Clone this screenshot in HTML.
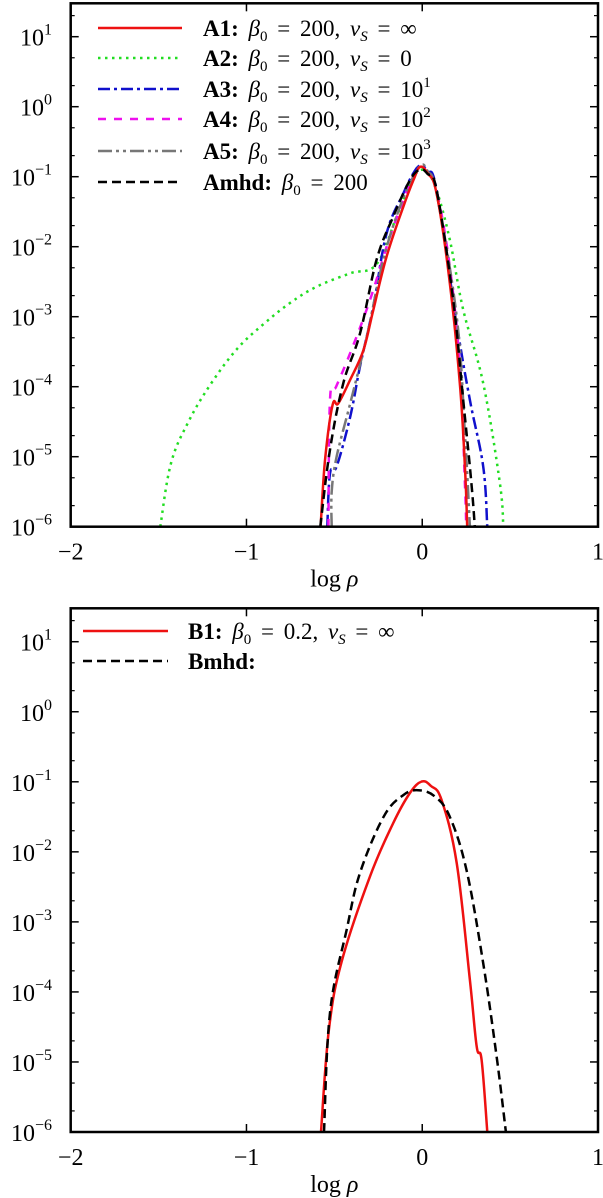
<!DOCTYPE html>
<html><head><meta charset="utf-8"><style>
html,body{margin:0;padding:0;background:#fff;width:603px;height:1198px;overflow:hidden}
svg{display:block;font-family:"Liberation Serif",serif}
</style></head><body>
<svg id="fig" width="603" height="1198" viewBox="0 0 603 1198" xmlns="http://www.w3.org/2000/svg"></svg>
<script>
// ---- data (x = log rho, y = log10 PDF) ----
const xTicks = [-2, -1, 0, 1];
const xTickLabels = ["\u22122", "\u22121", "0", "1"];
const yTicks = [1, 0, -1, -2, -3, -4, -5, -6];
const a1X = [-0.578,-0.553,-0.51,-0.478,-0.41,-0.335,-0.279,-0.203,-0.108,-0.05,-0.013,0.03,0.082,0.157,0.214,0.243,0.256];
const a1Y = [-6,-5.05,-4.26,-4.24,-3.90,-3.48,-2.91,-2.14,-1.43,-1.05,-0.86,-0.95,-1.24,-2.52,-3.95,-5.14,-6];
const a2X = [-1.49,-1.43,-1.33,-1.2,-1.05,-0.9,-0.75,-0.6,-0.41,-0.26,-0.146,-0.06,-0.003,0.04,0.082,0.157,0.233,0.347,0.442,0.461];
const a2Y = [-6,-5.1,-4.5,-3.95,-3.45,-3.1,-2.8,-2.57,-2.38,-2.25,-1.57,-1.05,-0.9,-0.98,-1.19,-1.9,-2.9,-3.95,-5.38,-6];
const a3X = [-0.54,-0.525,-0.487,-0.41,-0.354,-0.279,-0.203,-0.108,-0.05,-0.01,0.03,0.082,0.196,0.271,0.347,0.37];
const a3Y = [-6,-5.24,-5.14,-4.43,-3.71,-2.86,-1.81,-1.24,-0.95,-0.84,-0.92,-1.19,-3.1,-4.19,-5.14,-6];
const a4X = [-0.534,-0.525,-0.49,-0.41,-0.297,-0.184,-0.07,-0.01,0.03,0.082,0.157,0.214,0.243,0.25];
const a4Y = [-6,-4.19,-4.0,-3.52,-2.76,-1.86,-1.1,-0.87,-0.95,-1.2,-2.29,-3.71,-5.38,-6];
const a5X = [-0.515,-0.515,-0.487,-0.41,-0.316,-0.222,-0.127,-0.05,-0.003,0.03,0.082,0.196,0.243,0.271];
const a5Y = [-6,-5.5,-5.0,-4.24,-3.29,-2.19,-1.43,-1.0,-0.83,-0.92,-1.24,-3.0,-4.67,-6];
const amhdX = [-0.58,-0.525,-0.449,-0.354,-0.26,-0.165,-0.07,-0.013,0.03,0.082,0.176,0.233,0.28,0.299];
const amhdY = [-6,-4.90,-3.95,-3.24,-2.19,-1.57,-1.05,-0.9,-0.96,-1.19,-2.76,-4.19,-5.38,-6];
const b1X = [-0.576,-0.531,-0.459,-0.297,-0.165,-0.07,-0.003,0.05,0.11,0.196,0.271,0.31,0.338,0.37];
const b1Y = [-6,-4.54,-3.57,-2.35,-1.59,-1.16,-0.996,-1.06,-1.26,-2.16,-3.83,-4.78,-4.97,-6];
const bmhdX = [-0.559,-0.525,-0.43,-0.354,-0.22,-0.108,-0.023,0.072,0.157,0.252,0.347,0.423,0.476];
const bmhdY = [-6,-4.3,-3.11,-2.30,-1.50,-1.19,-1.12,-1.21,-1.50,-2.26,-3.59,-4.92,-6];

const NS = "http://www.w3.org/2000/svg";
const svg = document.getElementById('fig');
function el(tag, attrs, parent){const e=document.createElementNS(NS,tag);for(const k in attrs)e.setAttribute(k,attrs[k]);(parent||svg).appendChild(e);return e;}
function smoothPath(pts){
  let d = 'M' + pts[0][0].toFixed(1) + ',' + pts[0][1].toFixed(1);
  for (let i = 0; i < pts.length - 1; i++) {
    const p0 = pts[Math.max(0, i - 1)], p1 = pts[i], p2 = pts[i + 1], p3 = pts[Math.min(pts.length - 1, i + 2)];
    const t = 0.18;
    const c1 = [p1[0] + (p2[0] - p0[0]) * t, p1[1] + (p2[1] - p0[1]) * t];
    const c2 = [p2[0] - (p3[0] - p1[0]) * t, p2[1] - (p3[1] - p1[1]) * t];
    d += ' C' + c1[0].toFixed(1) + ',' + c1[1].toFixed(1) + ' ' + c2[0].toFixed(1) + ',' + c2[1].toFixed(1) + ' ' + p2[0].toFixed(1) + ',' + p2[1].toFixed(1);
  }
  return d;
}

const L = 70.7, R = 598, X0 = -2, X1 = 1, YMAX = Math.log10(30), YMIN = -6;
function makePanel(top, bottom, name, series, legend){
  const g = el('g', {});
  
  
  const sx = v => L + (v - X0) / (X1 - X0) * (R - L);
  const sy = v => bottom - (v - YMIN) / (YMAX - YMIN) * (bottom - top);
  const clipId = name + '-clip';
  const cp = el('clipPath', {id: clipId}, g);
  el('rect', {x: L, y: top, width: R - L, height: bottom - top}, cp);
  const plot = el('g', {'clip-path': 'url(#' + clipId + ')'}, g);
  series.forEach(s => {
    const pts = s.x.map((v, i) => [sx(v), sy(s.y[i])]);
    const p = el('path', {d: smoothPath(pts), fill: 'none', stroke: s.color, 'stroke-width': 2.5, 'stroke-dasharray': s.dash || 'none', 'stroke-linejoin': 'round'}, plot);
    
    
  });
  const fr = el('rect', {x: L, y: top, width: R - L, height: bottom - top, fill: 'none', stroke: '#000', 'stroke-width': 2.5}, g);
  
  
  xTicks.forEach((t, i) => {
    const x = sx(t);
    el('line', {x1: x, x2: x, y1: bottom, y2: bottom - 8, stroke: '#000', 'stroke-width': 1.5}, g);
    el('line', {x1: x, x2: x, y1: top, y2: top + 8, stroke: '#000', 'stroke-width': 1.5}, g);
    const tx = el('text', {x: x, y: bottom + 33, 'font-size': 24, 'text-anchor': 'middle'}, g);
    tx.textContent = xTickLabels[i];
    
    
  });
  const xl = el('text', {x: sx(-0.5), y: bottom + 60, 'font-size': 24, 'text-anchor': 'middle'}, g);
  xl.innerHTML = 'log <tspan font-style="italic">ρ</tspan>';
  
  
  yTicks.forEach(t => {
    const y = sy(t);
    el('line', {x1: L, x2: L + 8, y1: y, y2: y, stroke: '#000', 'stroke-width': 1.5}, g);
    el('line', {x1: R, x2: R - 8, y1: y, y2: y, stroke: '#000', 'stroke-width': 1.5}, g);
    [2, 5].forEach(m => {
      const ym = sy(t + Math.log10(m));
      if (ym > top + 1 && ym < bottom - 1) {
        el('line', {x1: L, x2: L + 4, y1: ym, y2: ym, stroke: '#000', 'stroke-width': 1.2}, g);
        el('line', {x1: R, x2: R - 4, y1: ym, y2: ym, stroke: '#000', 'stroke-width': 1.2}, g);
      }
    });
    const tl = el('text', {x: 52, y: y + 9, 'font-size': 24, 'text-anchor': 'end'}, g);
    tl.innerHTML = '10<tspan dy="-11" font-size="16">' + (t < 0 ? '\u2212' + (-t) : t) + '</tspan>';
    
    
  });
  legend.forEach(e => {
    const s = series[e.i];
    const ln = el('line', {x1: e.x1, x2: e.x2, y1: e.y, y2: e.y, stroke: s.color, 'stroke-width': 2.5, 'stroke-dasharray': s.dash || 'none'}, g);
    
    
    const tx = el('text', {x: e.tx, y: e.y + 8, 'font-size': 23, 'word-spacing': '4px'}, g);
    tx.innerHTML = e.html;
    
    
  });
}
const b = '<tspan font-style="italic">β</tspan><tspan font-size="15" dy="5">0</tspan><tspan dy="-5"> = </tspan>';
const nu = '<tspan font-style="italic">ν</tspan><tspan font-size="15" dy="5" font-style="italic">S</tspan><tspan dy="-5"> = </tspan>';
const sup = v => '10<tspan font-size="15" dy="-10">' + v + '</tspan>';

makePanel(3.3, 526.7, 'top-panel', [
  {name: 'series-a2', x: a2X, y: a2Y, color: '#22dd22', dash: '2.5 4.5'},
  {name: 'series-a3', x: a3X, y: a3Y, color: '#1010cc', dash: '12 4 3 4'},
  {name: 'series-a4', x: a4X, y: a4Y, color: '#ee10ee', dash: '8 8'},
  {name: 'series-a5', x: a5X, y: a5Y, color: '#777777', dash: '14 4 3 4 3 4'},
  {name: 'series-a1', x: a1X, y: a1Y, color: '#ee1111'},
  {name: 'series-amhd', x: amhdX, y: amhdY, color: '#000', dash: '9 5'}
], [
  {i: 4, y: 28, x1: 98, x2: 182, tx: 203, html: '<tspan font-weight="bold">A1:</tspan> ' + b + '200, ' + nu + '∞'},
  {i: 0, y: 58, x1: 98, x2: 182, tx: 203, html: '<tspan font-weight="bold">A2:</tspan> ' + b + '200, ' + nu + '0'},
  {i: 1, y: 89, x1: 98, x2: 182, tx: 203, html: '<tspan font-weight="bold">A3:</tspan> ' + b + '200, ' + nu + sup(1)},
  {i: 2, y: 119, x1: 98, x2: 182, tx: 203, html: '<tspan font-weight="bold">A4:</tspan> ' + b + '200, ' + nu + sup(2)},
  {i: 3, y: 151, x1: 98, x2: 182, tx: 203, html: '<tspan font-weight="bold">A5:</tspan> ' + b + '200, ' + nu + sup(3)},
  {i: 5, y: 182, x1: 98, x2: 182, tx: 203, html: '<tspan font-weight="bold">Amhd:</tspan> ' + b + '200'}
]);
makePanel(608.3, 1132, 'bottom-panel', [
  {name: 'series-b1', x: b1X, y: b1Y, color: '#ee1111'},
  {name: 'series-bmhd', x: bmhdX, y: bmhdY, color: '#000', dash: '9 5'}
], [
  {i: 0, y: 631, x1: 83, x2: 168, tx: 188, html: '<tspan font-weight="bold">B1:</tspan> ' + b + '0.2, ' + nu + '∞'},
  {i: 1, y: 661, x1: 83, x2: 168, tx: 188, html: '<tspan font-weight="bold">Bmhd:</tspan>'}
]);
</script>
</body></html>
